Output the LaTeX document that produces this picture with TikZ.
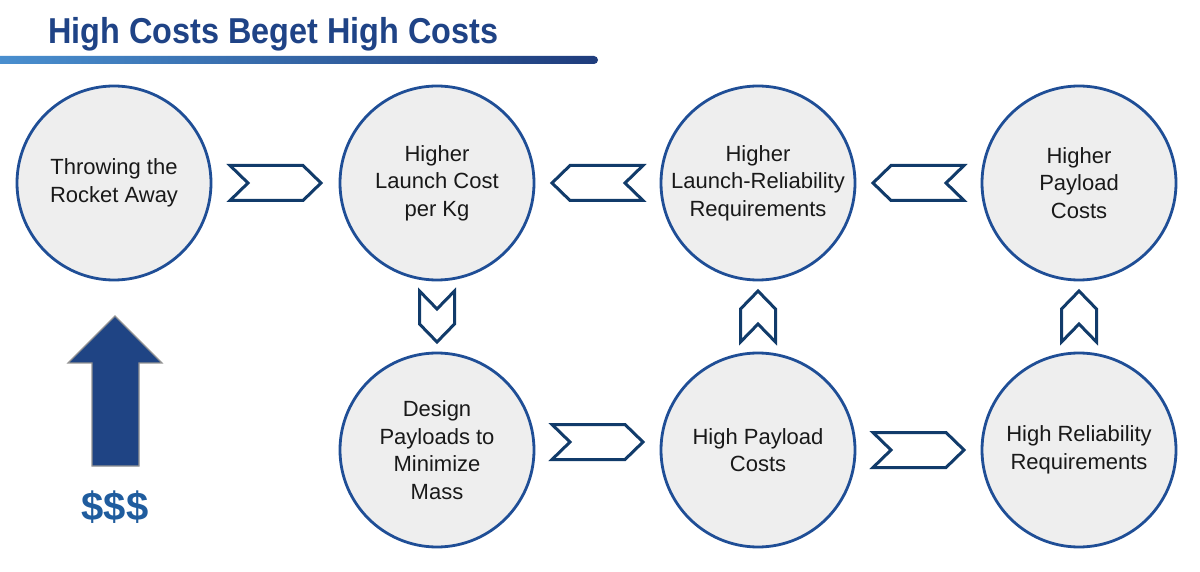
\documentclass[tikz,border=0pt]{standalone}
\usepackage{fontspec}
\setmainfont{Liberation Sans}
\usetikzlibrary{calc}

\definecolor{titleblue}{HTML}{1F4386}
\definecolor{barlight}{HTML}{4A90D0}
\definecolor{bardark}{HTML}{1F3C7C}
\definecolor{circblue}{HTML}{1F4E96}
\definecolor{circgray}{HTML}{EEEEEE}
\definecolor{chevblue}{HTML}{113B6A}
\definecolor{arrowblue}{HTML}{1F4484}
\definecolor{dollarblue}{HTML}{1F5C9E}

\tikzset{
	stage/.style={circle, draw=circblue, fill=circgray, line width=1.4pt,
		minimum size=97pt, inner sep=0pt, align=center, text=black!90,
		font=\fontsize{11}{13.75}\selectfont},
	chev/.style={draw=chevblue, fill=white, line width=1.5pt, line join=miter},
}

% centre, angle, half length
\newcommand\chevron[3]{\draw[chev, shift={(#1)}, rotate=#2]
	(-#3,-17.5) -- ({#3-18},-17.5) -- (#3,0) -- ({#3-18},17.5) -- (-#3,17.5) -- ({18-#3},0) -- cycle;}

\begin{document}
\begin{tikzpicture}[x=0.5pt, y=-0.5pt]
		\useasboundingbox[fill=white] (0,0) rectangle (1200,572);

		% title
		\node[anchor=base west, inner sep=0pt, text=titleblue, font=\bfseries\fontsize{18}{22}\selectfont] (title) at (48,44) {\scalebox{0.9}[1]{High Costs Beget High Costs}};
		\shade[left color=barlight, right color=bardark, rounded corners=2pt] (-10,56) rectangle (598,64);

		% circles
		\node[stage] (throw) at (114,183) {Throwing the\\Rocket Away};
		\node[stage] (cost) at (437,183) {Higher\\Launch Cost\\per Kg};
		\node[stage] (relreq) at (758,183) {Higher\\Launch-Reliability\\Requirements};
		\node[stage] (paycost) at (1079,183) {Higher\\Payload\\Costs};
		\node[stage] (design) at (437,450) {Design\\Payloads to\\Minimize\\Mass};
		\node[stage] (highpay) at (758,450) {High Payload\\Costs};
		\node[stage] (highrel) at (1079,450) {High Reliability\\Requirements};

		% chevrons
		\coordinate (m12) at ($(throw)!0.5!(cost)$);
		\coordinate (m23) at ($(cost)!0.5!(relreq)$);
		\coordinate (m34) at ($(relreq)!0.5!(paycost)$);
		\coordinate (m25) at ($(cost)!0.5!(design)$);
		\coordinate (m56) at ($(design)!0.5!(highpay)+(0,-8)$);
		\coordinate (m67) at ($(highpay)!0.5!(highrel)$);
		\coordinate (m36) at ($(relreq)!0.5!(highpay)$);
		\coordinate (m47) at ($(paycost)!0.5!(highrel)$);
		\chevron{m12}{0}{45.5}
		\chevron{m23}{180}{45.5}
		\chevron{m34}{180}{45.5}
		\chevron{m56}{0}{45.5}
		\chevron{m67}{0}{45.5}
		\chevron{m25}{-90}{25.5}
		\chevron{m36}{90}{25.5}
		\chevron{m47}{90}{25.5}

		% money arrow
		\filldraw[fill=arrowblue, draw=gray!85, line width=0.6pt] (92,466) -- (92,363) -- (68,363) -- (115,316) -- (162,363) -- (139,363) -- (139,466) -- cycle;
		\node[text=dollarblue, font=\bfseries\fontsize{20}{24}\selectfont] (cash) at (115,507) {\$\$\$};
	\end{tikzpicture}
\end{document}
